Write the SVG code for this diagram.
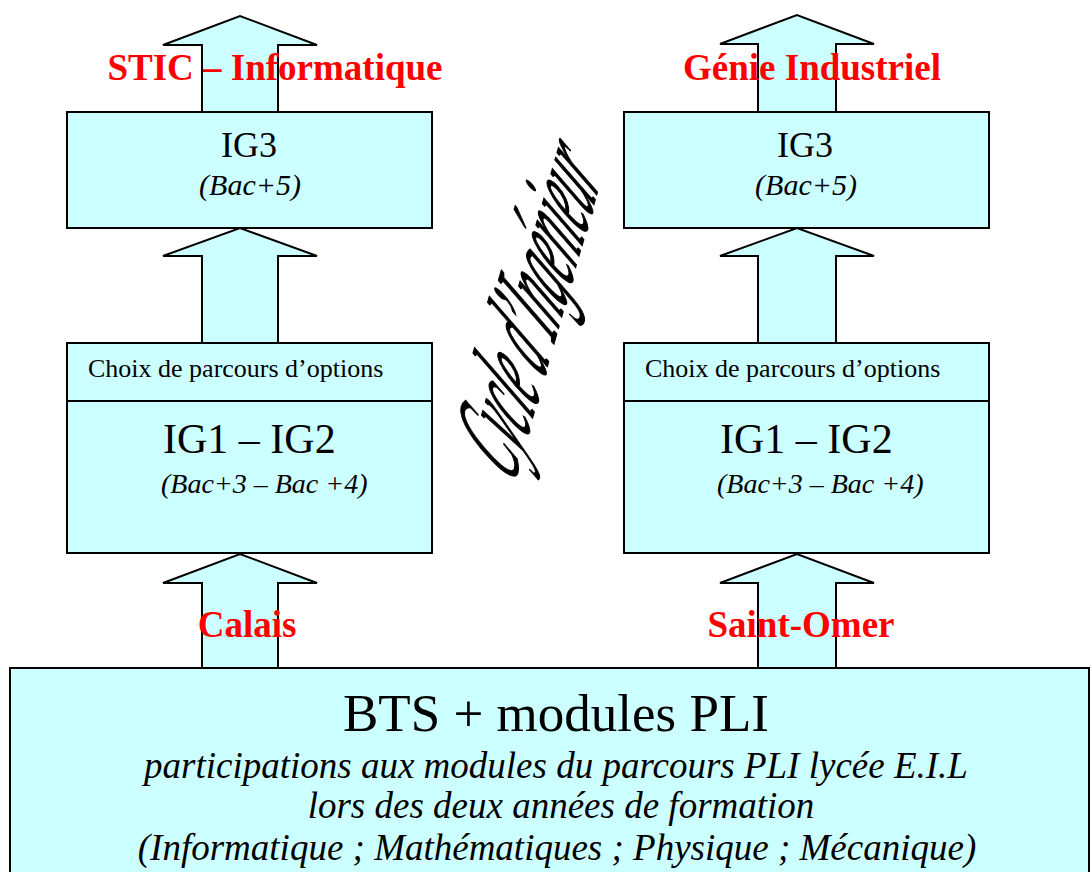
<svg xmlns="http://www.w3.org/2000/svg" width="1092" height="872" viewBox="0 0 1092 872">
<style>
.box{fill:#CCFFFF;stroke:#000;stroke-width:2}
.arr{fill:#CCFFFF;stroke:#000;stroke-width:2;stroke-linejoin:miter}
.t{font-family:"Liberation Serif","Times New Roman",serif;fill:#000}
.i{font-style:italic}
.red{font-family:"Liberation Serif","Times New Roman",serif;font-weight:bold;fill:#FF0000;font-size:37px}
</style>
<rect width="1092" height="872" fill="#fff"/>
<g id="connectors">
<polygon class="arr" points="202,112 202,45 163,45 240,16 317,45 278,45 278,112"/>
<polygon class="arr" points="202,343 202,256 163,256 240,228 317,256 278,256 278,343"/>
<polygon class="arr" points="202,668 202,583 163,583 240,554 317,583 278,583 278,668"/>
<polygon class="arr" points="758,112 758,44 720,44 797,15 874,44 836,44 836,112"/>
<polygon class="arr" points="758,343 758,256 720,256 797,228 874,256 836,256 836,343"/>
<polygon class="arr" points="758,668 758,583 720,583 797,554 874,583 836,583 836,668"/>
</g>
<g id="label-stic"><text class="red" x="275" y="80" text-anchor="middle">STIC – Informatique</text></g>
<g id="label-genie"><text class="red" x="812" y="80" text-anchor="middle">Génie Industriel</text></g>
<g id="label-calais"><text class="red" x="247" y="637" text-anchor="middle">Calais</text></g>
<g id="label-stomer"><text class="red" x="801" y="637" text-anchor="middle">Saint-Omer</text></g>
<g id="ig3-left">
<rect class="box" x="67" y="112" width="365" height="116"/>
<text class="t" x="249" y="157" font-size="36" text-anchor="middle">IG3</text>
<text class="t i" x="250" y="195" font-size="30" text-anchor="middle">(Bac+5)</text>
</g>
<g id="ig3-right">
<rect class="box" x="624" y="112" width="365" height="116"/>
<text class="t" x="805" y="157" font-size="36" text-anchor="middle">IG3</text>
<text class="t i" x="806" y="195" font-size="30" text-anchor="middle">(Bac+5)</text>
</g>
<g id="ig12-left">
<rect class="box" x="67" y="343" width="365" height="210"/>
<line x1="67" y1="401" x2="432" y2="401" stroke="#000" stroke-width="2"/>
<text class="t" x="88" y="377" font-size="26">Choix de parcours d’options</text>
<text class="t" x="163" y="453" font-size="42">IG1 – IG2</text>
<text class="t i" x="161" y="493" font-size="28">(Bac+3 – Bac +4)</text>
</g>
<g id="ig12-right">
<rect class="box" x="624" y="343" width="365" height="210"/>
<line x1="624" y1="401" x2="989" y2="401" stroke="#000" stroke-width="2"/>
<text class="t" x="645" y="377" font-size="26">Choix de parcours d’options</text>
<text class="t" x="720" y="453" font-size="42">IG1 – IG2</text>
<text class="t i" x="717" y="493" font-size="28">(Bac+3 – Bac +4)</text>
</g>
<g id="cycle">
<text class="t i" font-size="108" textLength="318" lengthAdjust="spacingAndGlyphs" stroke="#000" stroke-width="1.4" transform="translate(513,486) rotate(-74) skewX(-30)">Cycle d’Ingénieur</text>
</g>
<g id="bts">
<rect class="box" x="10" y="668" width="1079" height="220"/>
<text class="t" x="556" y="731" font-size="53" text-anchor="middle">BTS + modules PLI</text>
<text class="t i" x="556" y="778" font-size="37" text-anchor="middle">participations aux modules du parcours PLI lycée E.I.L</text>
<text class="t i" x="561" y="818" font-size="37" text-anchor="middle">lors des deux années de formation</text>
<text class="t i" x="557" y="860" font-size="37" text-anchor="middle">(Informatique ; Mathématiques ; Physique ; Mécanique)</text>
</g>
</svg>
